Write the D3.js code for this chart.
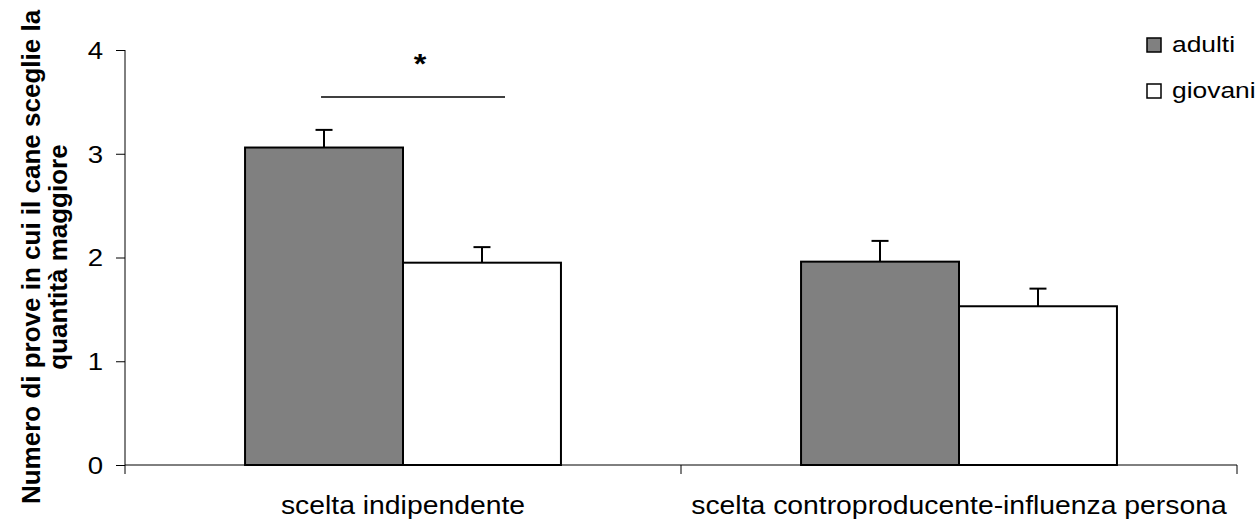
<!DOCTYPE html>
<html><head><meta charset="utf-8">
<script src="https://cdn.jsdelivr.net/npm/d3@7"></script>
<style>body{margin:0;background:#fff}svg{display:block}text{font-family:"Liberation Sans",Arial,sans-serif}</style>
</head><body><svg id="c" width="1258" height="520"></svg>
<script>
const categories = ["scelta indipendente", "scelta controproducente-influenza persona"];
const seriesNames = ["adulti", "giovani"];
const adulti = [3.06, 1.96];
const giovani = [1.95, 1.53];
const adultiErr = [0.17, 0.20];
const giovaniErr = [0.15, 0.17];
const yTicks = [0, 1, 2, 3, 4];
const colors = ["#808080", "#ffffff"];

const FF = '"Liberation Sans",Arial,sans-serif';
const svg = d3.select("#c");
const m = {l:125, r:21, t:50, b:55};
const W = 1258, H = 520;
const x = d3.scaleBand().domain(categories).range([m.l, W - m.r]).padding(0);
const inner = d3.scaleBand().domain(seriesNames).range([0, x.bandwidth()]).paddingOuter(0.76).paddingInner(0);
const y = d3.scaleLinear().domain([0, 4]).range([H - m.b, m.t]);

const data = categories.map((c, i) => ({c, vals: [adulti[i], giovani[i]], errs: [adultiErr[i], giovaniErr[i]]}));

// y axis
const TSX = 1.15;
const ya = svg.append("g").attr("transform", `translate(${m.l},0)`)
  .call(d3.axisLeft(y).tickValues(yTicks).tickSize(9).tickFormat(d3.format("d")));
ya.selectAll("path,line").attr("stroke", "#000").attr("stroke-width", 1);
ya.select(".domain").attr("d", `M0,${y(4)}V${y(0)}`);
ya.selectAll("text").attr("font-size", 24).attr("fill", "#000").style("font-family", FF)
  .attr("x", -22 / TSX).attr("dy", "0.35em").attr("transform", `scale(${TSX},1)`);

// x axis
const xa = svg.append("g").attr("transform", `translate(0,${y(0)})`);
xa.append("line").attr("x1", m.l).attr("x2", W - m.r).attr("stroke", "#000");
const bounds = [x.range()[0], ...categories.map(c => x(c) + x.bandwidth())];
xa.selectAll("line.t").data(bounds).join("line").attr("class", "t")
  .attr("x1", d => d).attr("x2", d => d).attr("y1", 0).attr("y2", 9).attr("stroke", "#000");
xa.selectAll("text").data(categories).join("text")
  .attr("transform", d => `translate(${x(d) + x.bandwidth()/2},49) scale(1.09,1)`)
  .attr("text-anchor", "middle").attr("font-size", 26).text(d => d);

// bars
const g = svg.selectAll("g.grp").data(data).join("g").attr("class", "grp")
  .attr("transform", d => `translate(${x(d.c)},0)`);
g.selectAll("g.err").data(d => d.vals.map((v, i) => ({v, e: d.errs[i], s: seriesNames[i]})))
  .join("g").attr("class", "err").each(function(d) {
    const cx = inner(d.s) + inner.bandwidth()/2;
    const s = d3.select(this);
    s.append("line").attr("x1", cx).attr("x2", cx).attr("y1", y(d.v)).attr("y2", y(d.v + d.e)).attr("stroke", "#000").attr("stroke-width", 2);
    s.append("line").attr("x1", cx - 8.5).attr("x2", cx + 8.5).attr("y1", y(d.v + d.e)).attr("y2", y(d.v + d.e)).attr("stroke", "#000").attr("stroke-width", 2);
  });
g.selectAll("rect").data(d => d.vals.map((v, i) => ({v, s: seriesNames[i], i})))
  .join("rect")
  .attr("x", d => inner(d.s)).attr("width", inner.bandwidth())
  .attr("y", d => y(d.v)).attr("height", d => y(0) - y(d.v))
  .attr("fill", d => colors[d.i]).attr("stroke", "#000").attr("stroke-width", 2);

// significance
const c0 = x(categories[0]);
svg.append("line").attr("x1", c0 + inner(seriesNames[0]) + 76).attr("x2", c0 + inner(seriesNames[1]) + 102)
  .attr("y1", 97).attr("y2", 97).attr("stroke", "#000").attr("stroke-width", 1.5);
svg.append("text").attr("transform", `translate(${c0 + x.bandwidth()/2 + 17},73) scale(1.2,1)`)
  .attr("text-anchor", "middle").attr("font-size", 27).attr("font-weight", "bold").text("*");

// legend
const lg = svg.append("g").attr("transform", "translate(1147,38)");
seriesNames.forEach((s, i) => {
  lg.append("rect").attr("x", 0).attr("y", i*46).attr("width", 14).attr("height", 14)
    .attr("fill", colors[i]).attr("stroke", "#000").attr("stroke-width", 1.5);
  lg.append("text").attr("transform", `translate(25,${i*46 + 14}) scale(1.2,1)`)
    .attr("font-size", 22).text(s);
});

// y title
const yTitle = ["Numero di prove in cui il cane sceglie la", "quantità maggiore"];
yTitle.forEach((t, i) => {
  svg.append("text").attr("transform", `translate(${40 + i*27},257) rotate(-90)`)
    .attr("text-anchor", "middle").attr("font-size", 26).attr("font-weight", "bold").text(t);
});
</script></body></html>
